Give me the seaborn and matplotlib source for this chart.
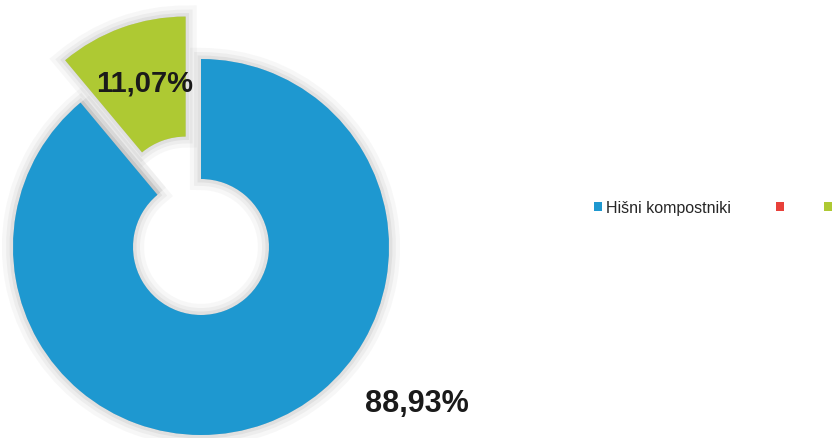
import matplotlib
matplotlib.use("Agg")
import matplotlib.pyplot as plt
import seaborn as sns

# data
labels = ["Hišni kompostniki", "", ""]
values = [88.93, 0.0, 11.07]
value_text = ["88,93%", "", "11,07%"]
colors = ["#1e98d0", "#e8403a", "#aec933"]
explode_frac = [0.0, 0.0, 0.24]

sns.set_theme(style="white")
plt.rcParams["font.family"] = ["Liberation Sans", "DejaVu Sans"]

W, H = 833, 439
fig = plt.figure(figsize=(W / 100, H / 100), dpi=100)
ax = fig.add_axes([0, 0, 1, 1])

center = (201, H - 248)
radius = 188
ring = 120
# pie's explode offset is absolute, so scale by the radius
explode = [e * radius for e in explode_frac]

# soft grey glow behind the ring
for lw, a in [(16, 0.05), (10, 0.07), (5, 0.10)]:
    ax.pie(values, colors=["#6f6f6f"] * 3, explode=explode, startangle=90,
           counterclock=False, center=center, radius=radius,
           wedgeprops=dict(width=ring, edgecolor="#6f6f6f", linewidth=lw, alpha=a))

wedges, _ = ax.pie(values, colors=colors, explode=explode, startangle=90,
                   counterclock=False, center=center, radius=radius,
                   wedgeprops=dict(width=ring, edgecolor="none"))

ax.set_xlim(0, W)
ax.set_ylim(0, H)
ax.set_aspect("equal")
ax.axis("off")

ax.text(145, H - 84, value_text[2], ha="center", va="center",
        fontsize=21, fontweight="bold", color="#1a1a1a")
ax.text(417, H - 404, value_text[0], ha="center", va="center",
        fontsize=22, fontweight="bold", color="#1a1a1a")

leg_kw = dict(loc="center left", frameon=False, fontsize=11.5,
              handlelength=0.5, handleheight=0.5, handletextpad=0.25,
              borderpad=0, borderaxespad=0)
leg1 = ax.legend(wedges[:1], labels[:1], bbox_to_anchor=(594 / W, 1 - 209 / H),
                 **leg_kw)
ax.add_artist(leg1)
ax.legend(wedges[1:], labels[1:], ncol=2, columnspacing=2.25,
          bbox_to_anchor=(776 / W, 1 - 209 / H), **leg_kw)

fig.savefig("out.png", dpi=100, facecolor="white")
